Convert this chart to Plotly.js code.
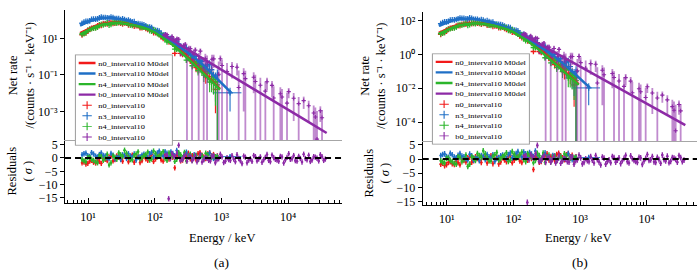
<!DOCTYPE html>
<html><head><meta charset="utf-8">
<script src="https://cdn.plot.ly/plotly-3.0.1.min.js"></script>
<style>html,body{margin:0;padding:0;background:#fff}#chart{width:700px;height:271px}</style>
</head><body><div id="chart"></div>
<script>
// ---------- data ----------
const DETECTORS = ['n0_interval10', 'n3_interval10', 'n4_interval10', 'b0_interval10'];

// NaI channel energies (keV)
const E_NAI = [8.13, 8.69, 9.29, 9.92, 10.6, 11.3, 12.1, 13.0, 13.9, 14.8, 15.8, 16.9, 18.1, 19.4, 20.7, 22.1, 23.7, 25.3, 27.0, 28.9,
  30.9, 33.0, 35.3, 37.8, 40.4, 43.2, 46.1, 49.3, 52.7, 56.4, 60.3, 64.5, 68.9, 73.6, 78.7, 84.1, 89.9, 96.2, 103, 110,
  117, 125, 134, 143, 153, 164, 175, 187, 200, 214, 229, 245, 262, 280, 299, 320, 342, 366, 391, 418,
  447, 478, 511, 546, 583, 624, 667, 713, 762, 815, 871];
const REL_ERR_NAI = [0.16, 0.14, 0.12, 0.11, 0.10, 0.095, 0.09, 0.085, 0.08, 0.08, 0.08, 0.08, 0.08, 0.08, 0.08, 0.08, 0.08, 0.08, 0.08, 0.08,
  0.08, 0.08, 0.08, 0.08, 0.08, 0.08, 0.08, 0.085, 0.09, 0.09, 0.09, 0.095, 0.10, 0.10, 0.10, 0.105, 0.11, 0.115, 0.12, 0.125,
  0.13, 0.135, 0.14, 0.15, 0.16, 0.17, 0.18, 0.19, 0.20, 0.215, 0.23, 0.245, 0.26, 0.28, 0.30, 0.325, 0.35, 0.375, 0.40, 0.43,
  0.46, 0.495, 0.53, 0.575, 0.62, 0.67, 0.72, 0.785, 0.85, 0.95, 1.05];

const N0_RATE = [15.4, 19.3, 20.0, 24.2, 30.6, 35.4, 36.9, 39.4, 48.0, 49.8, 50.7, 61.8, 62.7, 62.1, 71.9, 74.6, 65.3, 68.1, 76.0, 71.5,
  67.8, 61.0, 68.6, 67.9, 54.3, 56.0, 60.5, 45.7, 49.5, 49.5, 38.4, 38.2, 41.3, 35.2, 30.5, 32.7, 31.1, 20.6, 20.6, 20.0,
  18.0, 12.4, 9.73, 11.4, 8.64, 6.39, 7.15, 4.92, 1.5, 3.85, 2.91, 1.50, 1.31, 1.52, 1.46, 1.35, 0.607, 0.718, 0.544, 0.248,
  0.457, 0.412, 0.258, 0.157, 0.0876, 0.158, 0.147, 0.0796, 0.081, 0.0160, 0.0432];
const N3_RATE = [67.0, 77.0, 85.5, 85.1, 90.4, 110, 113.5, 112, 116.6, 131, 145.2, 138, 137.3, 131, 127.9, 147, 138.2, 120, 121.9, 121,
  105.7, 116, 107.2, 93.3, 101.4, 89.5, 80.6, 82.6, 63.3, 64.1, 60.7, 58.6, 55.4, 48.3, 41.2, 41.8, 39.1, 29.4, 27.8, 26.5,
  24.8, 18.7, 14.9, 15.8, 12.7, 9.10, 10.1, 8.06, 6.12, 6.98, 4.92, 3.31, 2.32, 3.03, 3.04, 1.92, 1.54, 0.814, 1.30, 1.03,
  0.454, 0.576, 0.558, 0.258, 0.295, 0.357, 0.372, 0.192, 0.0817, 0.0701, 0.0978];
const N4_RATE = [17.1, 18.2, 20.3, 28.2, 32.1, 33.2, 35.9, 37.5, 40.4, 54.8, 58.6, 54.7, 60.6, 71.3, 52.7, 58.2, 73.9, 71.3, 67.0, 79.3,
  74.4, 69.1, 78.8, 70.7, 61.6, 54.2, 51.3, 55.5, 55.6, 55.8, 42.3, 40.8, 40.9, 39.1, 39.0, 26.3, 24.6, 29.6, 24.3, 18.2,
  16.0, 15.3, 14.3, 8.69, 6.43, 8.26, 6.21, 4.83, 2.59, 2.52, 3.33, 2.38, 1.56, 1.89, 0.639, 0.833, 0.900, 0.317, 0.455, 0.429,
  0.172, 0.244, 0.220, 0.0968, 0.193, 0.125, 0.0404, 0.0516, 0.056, 0.0409, 0.0285];

// wide last n3 bin
const N3_TAIL_E = [1350];
const N3_TAIL_RATE = [0.0105];
const N3_TAIL_ERR = [0.0095];
const N3_TAIL_RES = [0.5];
const N3_TAIL_XLO = [610];
const N3_TAIL_XHI = [650];

// residuals (sigma)
const R_N0 = [-1.8, -1.5, -2.3, -2.0, -1.2, -0.9, -1.6, -1.9, -0.8, -1.3, -2.0, -0.2, -0.5, -1.0, 0.4, 0.7, -1.1, -0.6, 0.8, 0.2,
  -0.3, -1.2, 0.6, 0.9, -1.4, -0.5, 1.1, -1.6, -0.2, 0.4, -1.7, -1.0, 0.5, -0.3, -0.9, 0.8, 1.3, -1.3, -0.4, 0.6,
  0.9, -0.7, -1.2, 1.1, 0.3, -0.4, 1.4, 0.2, -3.7, 1.0, 0.6, -1.1, -0.8, 0.5, 1.2, 1.8, -0.3, 0.9, 0.7, -0.6,
  1.6, 2.0, 1.1, 0.4, -0.2, 1.5, 1.9, 0.8, 1.3, -0.5, 0.8];
const R_N3 = [1.2, 1.6, 1.8, 0.9, 0.6, 2.0, 1.5, 0.7, 0.4, 1.3, 1.9, 1.0, 0.8, 0.1, -0.3, 1.7, 1.1, -0.4, 0.2, 0.6,
  -0.6, 1.2, 0.9, -0.2, 1.6, 0.8, 0.3, 1.5, -0.8, 0.2, 0.5, 1.1, 1.4, 0.9, 0.2, 1.6, 2.1, 0.4, 1.0, 1.9,
  2.6, 1.3, 0.7, 2.4, 1.8, 0.5, 2.3, 1.7, 0.9, 2.8, 1.5, 0.3, -0.4, 1.4, 2.2, 0.8, 0.6, -0.6, 1.2, 1.0,
  -0.5, 0.4, 0.8, -0.3, 0.3, 1.2, 1.9, 0.7, -0.2, -0.1, 0.6];
const R_N4 = [-0.6, -1.1, -1.4, 0.2, 0.3, -0.5, -0.9, -1.5, -1.8, 0.8, 0.5, -0.9, -0.2, 1.4, -2.6, -1.8, 0.8, 0.3, -0.5, 1.9,
  1.2, 0.6, 2.9, 1.8, 0.4, -0.6, -0.7, 0.9, 1.5, 2.3, -0.3, 0.1, 0.9, 1.3, 2.2, -0.8, -0.4, 2.6, 1.7, 0.4,
  0.6, 1.6, 2.4, -0.2, -0.9, 1.9, 1.1, 0.7, -1.3, -0.5, 2.0, 1.2, 0.2, 2.1, -1.1, 0.3, 1.4, -0.9, 0.5, 1.0,
  -0.6, 0.6, 0.9, -0.3, 1.8, 1.1, -0.4, 0.2, 0.7, 0.5, 0.3];

// BGO channels
const E_B0 = [145, 153, 162, 172, 182, 193, 204, 216, 229, 243, 257, 272, 288, 305, 324, 343, 363, 384, 407, 431,
  457, 484, 513, 543, 575, 610, 646, 684, 724, 767, 813, 861, 912, 966, 1023, 1084, 1148, 1216, 1288, 1364,
  1445, 1531, 1622, 1718, 1820, 1928, 2042, 2163, 2291, 2427, 2570, 2723, 2884, 3055, 3236, 3428, 3631, 3846, 4074, 4315,
  4571, 4842, 5129, 5433, 5754, 6095, 6457, 6839, 7244, 7674, 8128, 8610, 9120, 9660, 10233, 10839, 11482, 12162, 12882, 13646,
  14454, 15311, 16218, 17179, 18197, 19275, 20417, 21627, 22909, 24266, 25704, 27227, 28840, 30549, 32359, 34277, 36308];
const B0_RATE = [16.9, 15.9, -37.7, 8.35, 12.7, 8.96, 7.23, 9.57, 9.0, 2.86, 2.79, 4.01, 4.74, 0.966, 2.68, 2.73, 0.609, 1.37, 2.27, -0.061,
  0.734, 2.00, -0.293, 0.247, 0.779, 0.509, -0.0403, -0.191, 0.719, 0.757, -0.570, -0.00534, 0.109, 0.761, 0.329, -0.414, -0.233, 0.154, -0.0484, -0.121,
  0.286, -0.00602, -0.194, 0.262, 0.0206, -0.0953, -0.229, 0.117, 0.0626, -0.145, -0.0453, -0.00233, -0.0737, 0.0744, 0.0435, -0.0449, -0.00768, 0.0271, -0.0529, -0.0131,
  0.0130, 0.0425, -0.0175, -0.0272, 0.0266, 0.00544, -0.00509, -0.00907, -0.0135, 0.00937, 0.00619, -0.0165, -0.00456, 0.00286, 0.0122, -0.00207, -0.00077, 0.00526, -0.00375, -0.00416,
  0.00268, -0.000162, -0.00385, 0.00393, -0.00013, -0.00114, 0.00207, -0.00188, -0.000964, 0.000822, 0.000499, 0.0000308, -0.000894, 0.00109, 0.000458, -0.000508, -0.000162];
const B0_ERR = [4.08, 3.59, 3.15, 3.01, 2.86, 2.52, 2.22, 2.10, 1.97, 1.84, 1.72, 1.60, 1.48, 1.37, 1.27, 1.17, 1.07, 1.03, 0.973, 0.915,
  0.864, 0.808, 0.752, 0.700, 0.649, 0.629, 0.605, 0.577, 0.547, 0.516, 0.485, 0.454, 0.425, 0.395, 0.366, 0.338, 0.312, 0.288, 0.264, 0.242,
  0.222, 0.203, 0.186, 0.170, 0.155, 0.141, 0.128, 0.116, 0.105, 0.0956, 0.0868, 0.0784, 0.0711, 0.0644, 0.058, 0.0525, 0.0475, 0.0428, 0.0385, 0.0347,
  0.0312, 0.0281, 0.0253, 0.0227, 0.0205, 0.0184, 0.0165, 0.0148, 0.0133, 0.0120, 0.0107, 0.00958, 0.00864, 0.00773, 0.0069, 0.00616, 0.00555, 0.00496, 0.00445, 0.00398,
  0.00356, 0.00319, 0.00285, 0.00255, 0.00228, 0.00203, 0.00181, 0.00162, 0.00145, 0.0013, 0.00116, 0.00103, 0.00092, 0.000822, 0.000733, 0.000654, 0.000583];
const R_B0 = [0.8, 1.1, -15.3, -0.3, 1.6, 0.7, 0.4, 1.9, 4.8, -0.8, -0.6, 0.4, 1.2, -1.2, 0.3, 0.6, -1.1, -0.2, 0.9, -1.4,
  -0.4, 1.3, -1.5, -0.7, 0.2, -0.1, -0.9, -1.1, 0.6, 0.8, -1.8, -0.6, -0.3, 1.4, 0.4, -1.7, -1.2, 0.1, -0.6, -0.9,
  0.9, -0.4, -1.4, 1.2, -0.2, -1.0, -2.1, 0.7, 0.3, -1.8, -0.8, -0.3, -1.3, 0.9, 0.5, -1.1, -0.4, 0.4, -1.6, -0.6,
  0.2, 1.3, -0.9, -1.4, 1.1, 0.1, -0.5, -0.8, -1.2, 0.6, 0.4, -1.9, -0.7, 0.2, 1.6, -0.5, -0.3, 0.9, -1.0, -1.2,
  0.6, -0.2, -1.5, 1.4, -0.2, -0.7, 1.0, -1.3, -0.8, 0.5, 0.3, -0.1, -1.1, 1.2, 0.5, -0.9, -0.4];

// model curves
const MODEL_E_NAI = [7.59, 10, 12.6, 15.8, 20, 25.1, 31.6, 39.8, 50.1, 63.1, 79.4, 100, 126, 158, 200, 251, 316, 398, 501, 631, 794, 955];
const N0_MODEL = [19.1, 31.6, 45.7, 60.3, 69.2, 72.4, 69.2, 61.7, 52.5, 43.7, 33.1, 22.9, 13.8, 7.59, 3.98, 1.91, 0.891, 0.398, 0.174, 0.0759, 0.0331, 0.0174];
const N4_MODEL = [16.6, 28.2, 41.7, 56.2, 66.1, 70.8, 67.6, 60.3, 51.3, 41.7, 31.6, 21.4, 12.6, 6.92, 3.55, 1.70, 0.794, 0.355, 0.158, 0.0692, 0.0302, 0.0158];
const MODEL_E_N3 = [7.59, 10, 12.6, 15.8, 20, 25.1, 31.6, 39.8, 50.1, 63.1, 79.4, 100, 126, 158, 200, 251, 316, 398, 501, 631, 794, 955, 1259, 1413];
const N3_MODEL = [50.1, 79.4, 104.7, 125.9, 131.8, 125.9, 109.6, 91.2, 72.4, 55.0, 39.8, 26.3, 15.8, 9.12, 5.25, 2.88, 1.58, 0.832, 0.417, 0.191, 0.0851, 0.0437, 0.0158, 0.0105];
const MODEL_E_B0 = [132, 200, 316, 501, 1000, 2000, 3980, 7940, 15800, 38000];
const B0_MODEL = [16.6, 6.61, 2.40, 0.871, 0.200, 0.0437, 0.00955, 0.00209, 0.000457, 0.0000661];

const X_TICKS = [10, 100, 1000, 10000];
const X_TICKTEXT = ['10\u00b9', '10\u00b2', '10\u00b3', '10\u2074'];
const YA_TICKS = [0.001, 0.1, 10];
const YA_TICKTEXT = ['10\u207b\u00b3', '10\u207b\u00b9', '10\u00b9'];
const YB_TICKS = [0.0001, 0.01, 1, 100];
const YB_TICKTEXT = ['10\u207b\u2074', '10\u207b\u00b2', '10\u2070', '10\u00b2'];
const RES_TICKS = [-15, -10, -5, 0, 5];
const RATE_TITLE = 'Net rate<br>/(counts \u00b7 s\u207b\u00b9 \u00b7 keV\u207b\u00b9)';
const RES_TITLE = 'Residuals<br>( <i>\u03c3</i> )';
const X_TITLE = 'Energy / keV';
const PANEL_LABELS = ['(a)', '(b)'];

// ---------- styles ----------
const COLORS = ['#f21a1a', '#1f6fc6', '#2bb52b', '#8d2aa6'];
const ERR_COLORS = ['#f21a1a', '#1f6fc6', '#2bb52b', 'rgba(141,42,166,0.55)'];
const FONT = 'Liberation Serif';

const naiX = E_NAI.map(e => e * 0.035);
const b0X = E_B0.map(e => e * 0.03);
const DATA = [
  {e: E_NAI, y: N0_RATE, err: N0_RATE.map((v, i) => v * REL_ERR_NAI[i]), res: R_N0, xhi: naiX, xlo: naiX, me: MODEL_E_NAI, m: N0_MODEL},
  {e: E_NAI.concat(N3_TAIL_E), y: N3_RATE.concat(N3_TAIL_RATE),
   err: N3_RATE.map((v, i) => v * REL_ERR_NAI[i]).concat(N3_TAIL_ERR), res: R_N3.concat(N3_TAIL_RES),
   xhi: naiX.concat(N3_TAIL_XHI), xlo: naiX.concat(N3_TAIL_XLO), me: MODEL_E_N3, m: N3_MODEL},
  {e: E_NAI, y: N4_RATE, err: N4_RATE.map((v, i) => v * REL_ERR_NAI[i]), res: R_N4, xhi: naiX, xlo: naiX, me: MODEL_E_NAI, m: N4_MODEL},
  {e: E_B0, y: B0_RATE, err: B0_ERR, res: R_B0, xhi: b0X, xlo: b0X, me: MODEL_E_B0, m: B0_MODEL}
];

function panel(xTop, yTop, xRes, yRes, legendId) {
  const tr = [];
  DATA.forEach((d, k) => {
    const bgo = k === 3;
    tr.push({type: 'scatter', mode: 'markers', x: d.e, y: d.y, xaxis: xTop, yaxis: yTop,
      name: DETECTORS[k], legend: legendId, legendrank: 5 + k,
      marker: {symbol: 'cross-thin', size: bgo ? 3 : 4, color: COLORS[k], line: {color: COLORS[k], width: bgo ? 1.1 : 1.3}},
      error_y: {type: 'data', array: d.err, color: ERR_COLORS[k], thickness: bgo ? 1.8 : 1.1, width: 0},
      error_x: {type: 'data', array: d.xhi, arrayminus: d.xlo, color: ERR_COLORS[k], thickness: 1, width: 0},
      hoverinfo: 'skip'});
    tr.push({type: 'scatter', mode: 'markers', x: d.e, y: d.res, xaxis: xRes, yaxis: yRes,
      showlegend: false, legend: legendId,
      marker: {symbol: 'circle', size: 2.6, color: COLORS[k]},
      error_y: {type: 'constant', value: 1, color: COLORS[k], thickness: 1.4, width: 0},
      error_x: {type: 'data', array: d.xhi, arrayminus: d.xlo, color: COLORS[k], thickness: 1, width: 0},
      hoverinfo: 'skip'});
  });
  DATA.forEach((d, k) => {
    tr.push({type: 'scatter', mode: 'lines', x: d.me, y: d.m, xaxis: xTop, yaxis: yTop,
      name: DETECTORS[k] + ' M0del', legend: legendId, legendrank: 1 + k,
      line: {color: COLORS[k], width: 2.5}, hoverinfo: 'skip'});
  });
  return tr;
}

const traces = panel('x2', 'y', 'x', 'y2', 'legend').concat(panel('x4', 'y3', 'x3', 'y4', 'legend2'));

const tickFont = {family: FONT, size: 12, color: '#000'};
const titleFont = {family: FONT, size: 12.5, color: '#000'};

function resX(domain, range, anchor) {
  return {type: 'log', domain: domain, range: range, anchor: anchor,
    showline: true, linecolor: '#000', linewidth: 1, mirror: false,
    ticks: 'inside', ticklen: 5, tickwidth: 1, tickcolor: '#000', ticklabelstandoff: 3,
    tickmode: 'array', tickvals: X_TICKS, ticktext: X_TICKTEXT, tickfont: tickFont,
    minor: {dtick: 'D1', ticks: 'inside', ticklen: 3, tickwidth: 1, tickcolor: '#000', showgrid: false},
    showgrid: false, zeroline: false};
}
function topX(domain, range, anchor) {
  return {type: 'log', domain: domain, range: range, anchor: anchor,
    showline: true, linecolor: '#a6a6a6', linewidth: 1, ticks: '', showticklabels: false,
    showgrid: false, zeroline: false};
}
function topY(domain, range, anchor, tv, tt) {
  return {type: 'log', domain: domain, range: range, anchor: anchor,
    showline: true, linecolor: '#000', linewidth: 1,
    ticks: 'outside', ticklen: 4, tickwidth: 1, tickcolor: '#000',
    tickmode: 'array', tickvals: tv, ticktext: tt, tickfont: tickFont,
    showgrid: false, zeroline: false};
}
function resY(domain, range, anchor) {
  return {domain: domain, range: range, anchor: anchor,
    showline: true, linecolor: '#000', linewidth: 1,
    ticks: 'outside', ticklen: 4, tickwidth: 1, tickcolor: '#000',
    tickmode: 'array', tickvals: RES_TICKS, tickfont: tickFont,
    showgrid: false, zeroline: false};
}

const legendBase = {xanchor: 'left', yanchor: 'top', bgcolor: '#ffffff', bordercolor: '#9c9c9c', borderwidth: 1.8,
  font: {family: FONT, size: 15, color: '#000'}, tracegroupgap: 0, itemwidth: 30, itemsizing: 'constant', traceorder: 'normal'};

function note(text, x, y, angle, size) {
  return {text: text, xref: 'paper', yref: 'paper', x: x, y: y, showarrow: false, textangle: angle,
    font: {family: FONT, size: size, color: '#000'}, xanchor: 'center', yanchor: 'middle'};
}

const layout = {
  width: 700, height: 271,
  margin: {l: 0, r: 0, t: 0, b: 0, autoexpand: false},
  paper_bgcolor: '#fff', plot_bgcolor: 'rgba(0,0,0,0)',
  font: {family: FONT, color: '#000'},
  showlegend: true,
  xaxis: resX([0.0929, 0.4886], [0.655, 4.81], 'y2'),
  xaxis2: topX([0.0929, 0.4886], [0.655, 4.81], 'y'),
  yaxis: topY([0.4834, 0.9631], [-4.56, 2.55], 'x2', YA_TICKS, YA_TICKTEXT),
  yaxis2: resY([0.2509, 0.4834], [-16.9, 6.75], 'x'),
  xaxis3: resX([0.6039, 0.9957], [0.64, 4.755], 'y4'),
  xaxis4: topX([0.6039, 0.9957], [0.64, 4.755], 'y3'),
  yaxis3: topY([0.4797, 0.9568], [-5.12, 2.53], 'x4', YB_TICKS, YB_TICKTEXT),
  yaxis4: resY([0.2435, 0.4797], [-16.2, 6.35], 'x3'),
  legend: Object.assign({x: 0.107, y: 0.799}, legendBase),
  legend2: Object.assign({x: 0.617, y: 0.803}, legendBase),
  shapes: [
    {type: 'line', xref: 'x domain', yref: 'y2', x0: 0, x1: 1, y0: 0, y1: 0, line: {color: '#000', width: 2, dash: '6px,4px'}},
    {type: 'line', xref: 'x3 domain', yref: 'y4', x0: 0, x1: 1, y0: 0, y1: 0, line: {color: '#000', width: 2, dash: '6px,4px'}}
  ],
  annotations: [
    note(RATE_TITLE, 0.0307, 0.7232, -90, 12.5),
    note(RES_TITLE, 0.0286, 0.3672, -90, 12.5),
    note(RATE_TITLE, 0.5329, 0.7196, -90, 12.5),
    note(RES_TITLE, 0.5379, 0.3616, -90, 12.5),
    note(X_TITLE, 0.317, 0.122, 0, 12.5),
    note(X_TITLE, 0.826, 0.122, 0, 12.5),
    note(PANEL_LABELS[0], 0.317, 0.033, 0, 13.5),
    note(PANEL_LABELS[1], 0.829, 0.033, 0, 13.5)
  ]
};

Plotly.newPlot('chart', traces, layout, {staticPlot: true, displayModeBar: false}).then(function (gd) {
  ['legend', 'legend2'].forEach(function (id) {
    const g = gd.querySelector('g.' + id);
    if (g) {
      const t = g.getAttribute('transform') || '';
      g.setAttribute('transform', t + ' scale(0.56,0.47)');
    }
  });
});
</script>
</body></html>
